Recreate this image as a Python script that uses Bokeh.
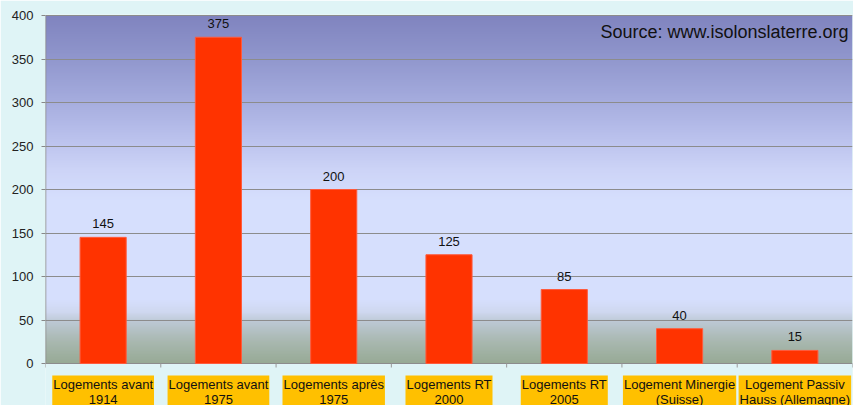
import numpy as np
from bokeh.plotting import figure
from bokeh.models import FixedTicker, Range1d
from bokeh.core.properties import value
from bokeh.embed import file_html
from bokeh.resources import INLINE

# ---- data ----
categories = [
    "Logements avant\n1914",
    "Logements avant\n1975",
    "Logements après\n1975",
    "Logements RT\n2000",
    "Logements RT\n2005",
    "Logement Minergie\n(Suisse)",
    "Logement Passiv\nHauss (Allemagne)",
]
consumption = [145, 375, 200, 125, 85, 40, 15]
y_ticks = [0, 50, 100, 150, 200, 250, 300, 350, 400]
source_note = "Source: www.isolonslaterre.org"

# ---- layout ----
W, H = 853, 405
top_px, zero_px = 15, 363
px_per_unit = (zero_px - top_px) / 400.0
frame_top = 14
y_end = 400 + (top_px - frame_top) / px_per_unit
y_start = -(H - zero_px) / px_per_unit
n = len(categories)
xs = list(range(n))
bounds = [i - 0.5 for i in range(n + 1)]

FONT = value("Liberation Sans")
BG = "#dff4f6"

p = figure(width=W, height=H, x_range=Range1d(-0.5, n - 0.5),
           y_range=Range1d(y_start, y_end), x_axis_location=None,
           output_backend="svg", toolbar_location=None,
           min_border_left=45, min_border_right=1, min_border_top=frame_top,
           min_border_bottom=0)
p.border_fill_color = BG
p.background_fill_color = BG
p.outline_line_color = None
p.xgrid.visible = False

# gradient background of plot area
stops = [(0.0, "#97aa95"), (0.066, "#aab9b2"), (0.118, "#bcc8d3"), (0.147, "#cfd8f0"),
         (0.181, "#d6dffd"), (0.468, "#d6dffd"), (0.555, "#cdd4f7"), (0.670, "#b6bdea"),
         (0.784, "#a0a7da"), (0.899, "#8d93ca"), (1.0, "#8084bf")]
rows = 400
f = np.linspace(0, 1, rows)
pos = [s[0] for s in stops]
img = np.zeros((rows, 2), dtype=np.uint32)
view = img.view(dtype=np.uint8).reshape((rows, 2, 4))
for k in range(3):
    ch = np.interp(f, pos, [int(s[1][1 + 2 * k:3 + 2 * k], 16) for s in stops])
    view[:, :, k] = np.round(ch).astype(np.uint8)[:, None]
view[:, :, 3] = 255
p.image_rgba(image=[img], x=-0.5, y=0, dw=n, dh=400, level="image")

# y axis
p.yaxis.ticker = FixedTicker(ticks=y_ticks)
p.yaxis.axis_line_color = None
p.yaxis.major_tick_line_color = "#888888"
p.yaxis.major_tick_out = 4
p.yaxis.major_tick_in = 0
p.yaxis.minor_tick_line_color = None
p.yaxis.major_label_standoff = 8
p.yaxis.major_label_text_font = "Liberation Sans"
p.yaxis.major_label_text_font_size = "13px"
p.yaxis.major_label_text_color = "#222222"
p.ygrid.grid_line_color = "#8c8c8c"
p.ygrid.grid_line_width = 1

# axis lines and category tick marks
p.segment(x0=[-0.5], y0=[0], x1=[-0.5], y1=[400], line_color="#888888", line_width=1.5)
p.segment(x0=bounds, y0=[0] * len(bounds), x1=bounds, y1=[-4 / px_per_unit] * len(bounds),
          line_color="#999999", line_width=1)

# bars
p.vbar(x=xs, top=consumption, bottom=0, width=0.4, fill_color="#ff3300",
       line_color="#ff5a3c", line_width=1)

# value labels
p.text(x=xs, y=consumption, text=[str(v) for v in consumption], text_align="center",
       text_baseline="bottom", y_offset=-9, text_font=FONT, text_font_size="13px",
       text_color="#111111")

# category labels in orange boxes
p.text(x=xs, y=[0] * n, text=categories, text_align="center", text_baseline="top",
       y_offset=12, text_font=FONT, text_font_size="13px", text_color="#111111",
       text_line_height=1.0, background_fill_color="#ffc000", padding=1)

# source note
p.text(x=[n - 0.5], y=[400], text=[source_note], text_align="right", text_baseline="middle",
       x_offset=-4, y_offset=16, text_font=FONT, text_font_size="18px", text_color="#111111")

open("out.html", "w").write(file_html(p, INLINE))
